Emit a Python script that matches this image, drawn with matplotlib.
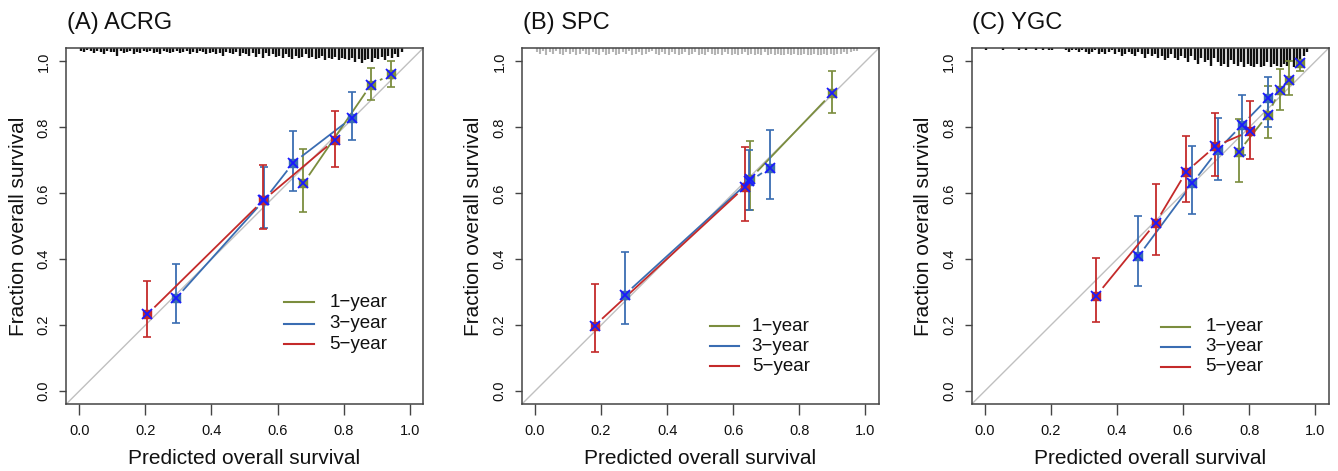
import numpy as np
import matplotlib
matplotlib.use("Agg")
import matplotlib.pyplot as plt

plt.rcParams['font.family'] = ['Liberation Sans', 'DejaVu Sans']

# ---------------------------------------------------------------- labels
titles = ["(A) ACRG", "(B) SPC", "(C) YGC"]
series_labels = ["1\u2212year", "3\u2212year", "5\u2212year"]
tick_values = [0.0, 0.2, 0.4, 0.6, 0.8, 1.0]
tick_labels = ["0.0", "0.2", "0.4", "0.6", "0.8", "1.0"]
x_title = "Predicted overall survival"
y_title = "Fraction overall survival"

# ---------------------------------------------------------------- ACRG
acrg_1y_pred = [0.678, 0.883, 0.944]
acrg_1y_obs = [0.630, 0.930, 0.961]
acrg_1y_lo = [0.543, 0.883, 0.923]
acrg_1y_hi = [0.733, 0.981, 1.000]

acrg_3y_pred = [0.293, 0.560, 0.648, 0.825]
acrg_3y_obs = [0.282, 0.580, 0.693, 0.829]
acrg_3y_lo = [0.206, 0.495, 0.607, 0.762]
acrg_3y_hi = [0.385, 0.680, 0.789, 0.908]

acrg_5y_pred = [0.206, 0.557, 0.773]
acrg_5y_obs = [0.233, 0.579, 0.762]
acrg_5y_lo = [0.164, 0.491, 0.681]
acrg_5y_hi = [0.333, 0.686, 0.849]

# ---------------------------------------------------------------- SPC
spc_1y_pred = [0.652, 0.898]
spc_1y_obs = [0.645, 0.903]
spc_1y_lo = [0.549, 0.845]
spc_1y_hi = [0.758, 0.970]

spc_3y_pred = [0.271, 0.648, 0.712]
spc_3y_obs = [0.292, 0.636, 0.678]
spc_3y_lo = [0.204, 0.550, 0.583]
spc_3y_hi = [0.422, 0.730, 0.793]

spc_5y_pred = [0.181, 0.635]
spc_5y_obs = [0.199, 0.619]
spc_5y_lo = [0.118, 0.516]
spc_5y_hi = [0.325, 0.740]

# ---------------------------------------------------------------- YGC
ygc_1y_pred = [0.768, 0.857, 0.892, 0.920, 0.953]
ygc_1y_obs = [0.726, 0.839, 0.912, 0.945, 0.995]
ygc_1y_lo = [0.635, 0.767, 0.852, 0.899, 0.971]
ygc_1y_hi = [0.827, 0.925, 0.978, 1.000, 1.000]

ygc_3y_pred = [0.465, 0.628, 0.705, 0.778, 0.857]
ygc_3y_obs = [0.409, 0.630, 0.731, 0.807, 0.889]
ygc_3y_lo = [0.318, 0.538, 0.640, 0.716, 0.800]
ygc_3y_hi = [0.530, 0.743, 0.830, 0.897, 0.953]

ygc_5y_pred = [0.338, 0.517, 0.610, 0.698, 0.803]
ygc_5y_obs = [0.290, 0.510, 0.666, 0.743, 0.789]
ygc_5y_lo = [0.209, 0.414, 0.573, 0.653, 0.703]
ygc_5y_hi = [0.405, 0.628, 0.774, 0.844, 0.881]

# ------------------------------------------- spike histograms of predictions
risk_bins = np.round(np.arange(0.0, 1.0, 0.01) + 0.005, 3)

acrg_risk_counts = [
    2, 3, 1, 2, 4, 2, 3, 5, 2, 3,
    3, 6, 2, 4, 3, 2, 5, 3, 4, 2,
    3, 2, 4, 3, 5, 2, 3, 4, 3, 2,
    4, 3, 2, 5, 3, 4, 2, 3, 5, 4,
    3, 5, 4, 6, 3, 4, 5, 3, 6, 4,
    5, 6, 4, 7, 5, 8, 4, 6, 5, 7,
    6, 8, 5, 7, 9, 6, 8, 7, 5, 8,
    7, 9, 8, 6, 10, 8, 9, 7, 10, 8,
    9, 10, 8, 11, 9, 12, 10, 9, 11, 8,
    9, 7, 10, 6, 8, 5, 7, 3, 0, 0,
]
spc_risk_counts = [
    3, 4, 2, 5, 3, 4, 2, 4, 5, 3,
    4, 3, 5, 4, 2, 4, 5, 3, 4, 5,
    3, 5, 4, 3, 5, 4, 3, 4, 2, 5,
    4, 3, 5, 4, 3, 2, 4, 5, 3, 4,
    5, 3, 4, 5, 4, 3, 5, 4, 3, 5,
    4, 5, 3, 4, 5, 4, 5, 3, 4, 5,
    4, 5, 4, 3, 5, 4, 5, 4, 5, 3,
    5, 4, 5, 4, 5, 5, 4, 5, 4, 5,
    5, 4, 5, 5, 4, 5, 5, 4, 5, 4,
    5, 4, 4, 3, 4, 3, 2, 2, 0, 0,
]
ygc_risk_counts = [
    1, 0, 0, 0, 0, 1, 0, 0, 0, 0,
    1, 0, 1, 0, 0, 1, 0, 1, 0, 1,
    1, 0, 0, 0, 1, 2, 1, 1, 2, 1,
    2, 3, 2, 1, 3, 2, 3, 2, 1, 3,
    2, 4, 3, 2, 3, 4, 2, 3, 5, 3,
    4, 3, 5, 4, 6, 5, 3, 5, 6, 4,
    5, 7, 4, 6, 8, 5, 7, 6, 9, 5,
    7, 9, 8, 10, 6, 8, 9, 7, 10, 8,
    9, 10, 8, 10, 9, 7, 10, 8, 9, 10,
    8, 9, 7, 10, 6, 8, 4, 2, 0, 0,
]

# ---------------------------------------------------------------- styling
series_colors = ["#7b8d3e", "#3a6db2", "#c42a2a"]
mark_color = "#1a1aff"
frame_color = "#444444"
LIM = (-0.04, 1.04)

panels = [
    dict(title=titles[0],
         series=[(acrg_1y_pred, acrg_1y_obs, acrg_1y_lo, acrg_1y_hi),
                 (acrg_3y_pred, acrg_3y_obs, acrg_3y_lo, acrg_3y_hi),
                 (acrg_5y_pred, acrg_5y_obs, acrg_5y_lo, acrg_5y_hi)],
         risk=acrg_risk_counts, risk_color="#111111", risk_scale=0.0037,
         risk_lw=1.7,
         legend=dict(x0=0.620, x1=0.710, xt=0.757, y=[0.269, 0.205, 0.142]),
         left=66.0),
    dict(title=titles[1],
         series=[(spc_1y_pred, spc_1y_obs, spc_1y_lo, spc_1y_hi),
                 (spc_3y_pred, spc_3y_obs, spc_3y_lo, spc_3y_hi),
                 (spc_5y_pred, spc_5y_obs, spc_5y_lo, spc_5y_hi)],
         risk=spc_risk_counts, risk_color="#b4b4b4", risk_scale=0.0042,
         risk_lw=1.5,
         legend=dict(x0=0.530, x1=0.618, xt=0.656, y=[0.197, 0.136, 0.076]),
         left=521.7),
    dict(title=titles[2],
         series=[(ygc_1y_pred, ygc_1y_obs, ygc_1y_lo, ygc_1y_hi),
                 (ygc_3y_pred, ygc_3y_obs, ygc_3y_lo, ygc_3y_hi),
                 (ygc_5y_pred, ygc_5y_obs, ygc_5y_lo, ygc_5y_hi)],
         risk=ygc_risk_counts, risk_color="#111111", risk_scale=0.0058,
         risk_lw=1.7,
         legend=dict(x0=0.532, x1=0.622, xt=0.667, y=[0.195, 0.134, 0.074]),
         left=971.5),
]

W, H = 1338, 471
fig = plt.figure(figsize=(W / 100, H / 100), dpi=100)

AX_W, AX_H = 357.0, 356.0
AX_TOP = 48.3
GAP = 0.030  # gap left around each point by the connecting lines


def gapped_segments(ax, xs, ys, color):
    """Join consecutive points with lines that stop short of each point."""
    for (xa, ya), (xb, yb) in zip(zip(xs, ys), zip(xs[1:], ys[1:])):
        dx, dy = xb - xa, yb - ya
        length = np.hypot(dx, dy)
        if length <= 2 * GAP:
            continue
        ux, uy = dx / length, dy / length
        ax.plot([xa + ux * GAP, xb - ux * GAP], [ya + uy * GAP, yb - uy * GAP],
                color=color, lw=1.3, solid_capstyle="butt", zorder=3)


for p in panels:
    ax = fig.add_axes([p["left"] / W, (H - AX_TOP - AX_H) / H, AX_W / W, AX_H / H])
    ax.set_xlim(*LIM)
    ax.set_ylim(*LIM)

    # reference diagonal
    ax.axline((0, 0), (1, 1), color="#c0c0c0", lw=1.0, zorder=1)

    # spike histogram of predicted values along the top edge
    counts = np.asarray(p["risk"], dtype=float)
    keep = counts > 0
    ax.vlines(risk_bins[keep], LIM[1] - counts[keep] * p["risk_scale"], LIM[1],
              color=p["risk_color"], lw=p["risk_lw"], zorder=2)

    for (pred, obs, lo, hi), color in zip(p["series"], series_colors):
        pred = np.asarray(pred)
        obs = np.asarray(obs)
        lo = np.asarray(lo)
        hi = np.asarray(hi)
        ax.errorbar(pred, obs, yerr=[obs - lo, hi - obs], fmt="none",
                    ecolor=color, elinewidth=1.3, capsize=3.2, capthick=1.2,
                    zorder=3)
        gapped_segments(ax, pred, obs, color)
        ax.plot(pred, obs, "s", ms=5.5, color=color, mec=color, zorder=4)
        ax.plot(pred, obs, "x", ms=6.5, mew=1.3, color=mark_color, zorder=5)

    # legend
    lg = p["legend"]
    for label, color, yy in zip(series_labels, series_colors, lg["y"]):
        ax.plot([lg["x0"], lg["x1"]], [yy, yy], color=color, lw=1.5, zorder=3)
        ax.text(lg["xt"], yy, label, fontsize=13.5, va="center", ha="left",
                color="#111111")

    ax.set_xticks(tick_values)
    ax.set_xticklabels(tick_labels)
    ax.set_yticks(tick_values)
    ax.set_yticklabels(tick_labels, rotation=90, va="center")
    ax.tick_params(axis="x", length=8, width=1.0, color=frame_color, pad=6,
                   labelsize=10.5, labelcolor="#111111")
    ax.tick_params(axis="y", length=5, width=1.0, color=frame_color, pad=6,
                   labelsize=10.5, labelcolor="#111111")
    for s in ax.spines.values():
        s.set_color(frame_color)
        s.set_linewidth(1.1)

    ax.set_xlabel(x_title, fontsize=15, color="#111111")
    ax.xaxis.set_label_coords(0.5, -(458 - (AX_TOP + AX_H)) / AX_H)
    ax.xaxis.label.set_va("center")
    ax.set_ylabel(y_title, fontsize=15, color="#111111")
    ax.yaxis.set_label_coords(-48 / AX_W, 0.5)
    ax.yaxis.label.set_va("center")

    fig.text((p["left"] + 1) / W, 1 - 23 / H, p["title"], fontsize=17,
             ha="left", va="center", color="#111111")

fig.savefig("out.png", dpi=100)
